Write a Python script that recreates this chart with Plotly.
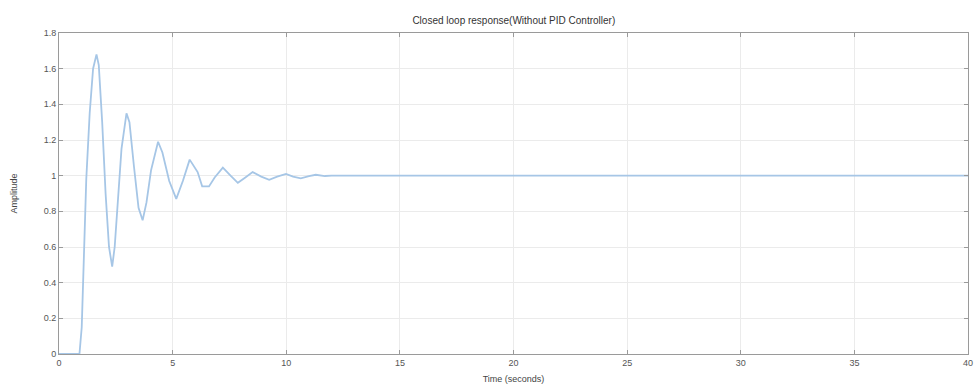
import plotly.graph_objects as go

# Step response samples (time in seconds, amplitude)
time_s = [0, 0.9, 1.0, 1.1, 1.2, 1.35, 1.5, 1.65, 1.75, 1.9, 2.05, 2.2, 2.34, 2.45,
          2.6, 2.75, 2.97, 3.1, 3.3, 3.5, 3.68, 3.85, 4.05, 4.36, 4.55, 4.85, 5.16,
          5.45, 5.75, 6.1, 6.3, 6.6, 6.85, 7.21, 7.55, 7.87, 8.2, 8.52, 8.9, 9.25,
          9.6, 9.99, 10.3, 10.64, 11.0, 11.3, 11.7, 12.0, 40]
amplitude = [0, 0, 0.15, 0.55, 0.98, 1.35, 1.6, 1.68, 1.62, 1.3, 0.9, 0.6, 0.49, 0.6,
             0.9, 1.15, 1.35, 1.3, 1.05, 0.82, 0.75, 0.85, 1.03, 1.19, 1.13, 0.97, 0.87,
             0.97, 1.09, 1.02, 0.94, 0.94, 0.99, 1.045, 1.0, 0.96, 0.99, 1.02, 0.995, 0.977,
             0.995, 1.01, 0.995, 0.985, 0.997, 1.005, 0.998, 1.0, 1.0]

x_ticks = [0, 5, 10, 15, 20, 25, 30, 35, 40]
y_ticks = [0, 0.2, 0.4, 0.6, 0.8, 1, 1.2, 1.4, 1.6, 1.8]

title_text = "Closed loop response(Without PID Controller)"
x_title = "Time (seconds)"
y_title = "Amplitude"

fig = go.Figure()
fig.add_trace(go.Scatter(x=time_s, y=amplitude, mode="lines",
                         line=dict(color="#a6c6e6", width=1.8), showlegend=False))

axis_common = dict(showgrid=True, gridcolor="#ebebeb", gridwidth=1,
                   showline=True, linecolor="#9a9a9a", linewidth=1, mirror="ticks",
                   ticks="inside", ticklen=4, tickcolor="#9a9a9a",
                   tickfont=dict(size=9, color="#555555", family="Liberation Sans"),
                   zeroline=False, automargin=False)

fig.update_layout(
    width=975, height=385,
    margin=dict(l=59, r=7, t=33, b=31),
    paper_bgcolor="white", plot_bgcolor="white",
    font=dict(family="Liberation Sans", color="#444444"),
    title=dict(text=title_text, x=0.527, xanchor="center", y=0.948, yanchor="middle",
               font=dict(size=10, color="#333333")),
    xaxis=dict(range=[0, 40], tickvals=x_ticks, ticktext=[str(v) for v in x_ticks],
               title=dict(text=x_title, font=dict(size=9, color="#444444"), standoff=8),
               **axis_common),
    yaxis=dict(range=[0, 1.8], tickvals=y_ticks, ticktext=[f"{v:g}" for v in y_ticks],
               title=dict(text=y_title, font=dict(size=9, color="#444444"), standoff=24),
               **axis_common),
)

fig.write_html("out.html", config={"displayModeBar": False},
               post_script="document.body.style.margin='0';")
